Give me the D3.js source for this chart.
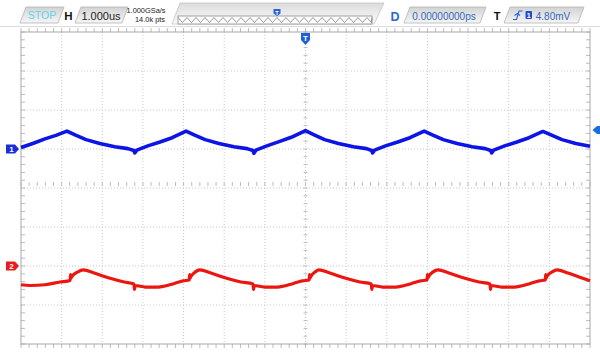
<!DOCTYPE html>
<html>
<head>
<meta charset="utf-8">
<script src="https://cdn.jsdelivr.net/npm/d3@7/dist/d3.min.js"></script>
<style>
  html, body { margin: 0; padding: 0; background: #fff; }
  svg { display: block; font-family: "Liberation Sans", Arial, sans-serif; }
</style>
</head>
<body>
<svg id="scope" width="600" height="356"></svg>
<script>
// Horizontal: microseconds (1 us/div, 14 divisions). Vertical: screen divisions (8 divisions).
const ch1Time = [-7.00, -6.71, -6.41, -6.14, -5.87, -5.67, -5.40, -5.06, -4.69, -4.37, -4.22, -4.20, -4.15,
  -3.88, -3.58, -3.28, -2.94, -2.74, -2.47, -2.13, -1.76, -1.44, -1.29, -1.27, -1.22,
  -0.95, -0.65, -0.35, 0.00, 0.20, 0.47, 0.81, 1.18, 1.50, 1.63, 1.65, 1.70,
  1.97, 2.27, 2.57, 2.92, 3.12, 3.39, 3.73, 4.10, 4.42, 4.56, 4.58, 4.63,
  4.90, 5.20, 5.50, 5.84, 6.04, 6.31, 6.65, 7.00];
const ch1Div = [1.04, 1.14, 1.26, 1.35, 1.46, 1.36, 1.24, 1.14, 1.06, 1.01, 0.96, 0.90, 0.97,
  1.08, 1.18, 1.29, 1.46, 1.36, 1.24, 1.14, 1.06, 1.01, 0.96, 0.89, 0.97,
  1.08, 1.19, 1.30, 1.47, 1.37, 1.24, 1.14, 1.06, 1.01, 0.96, 0.90, 0.97,
  1.08, 1.18, 1.29, 1.46, 1.36, 1.24, 1.14, 1.06, 1.01, 0.96, 0.90, 0.97,
  1.08, 1.18, 1.29, 1.45, 1.36, 1.24, 1.14, 1.07];

const ch2Time = [-7.00, -6.78, -6.41, -6.04, -5.79, -5.78, -5.77, -5.75, -5.60, -5.47,
  -5.20, -4.83, -4.46, -4.22, -4.21, -4.19, -3.94, -3.62, -3.26, -3.01, -2.86, -2.85, -2.84, -2.82, -2.71, -2.60,
  -2.33, -1.96, -1.59, -1.29, -1.28, -1.26, -1.01, -0.69, -0.33, -0.08, 0.09, 0.10, 0.11, 0.13, 0.24, 0.33,
  0.60, 0.97, 1.34, 1.62, 1.63, 1.65, 1.90, 2.22, 2.58, 2.83, 2.99, 3.00, 3.01, 3.03, 3.14, 3.26,
  3.53, 3.90, 4.27, 4.54, 4.55, 4.57, 4.82, 5.14, 5.50, 5.75, 5.90, 5.91, 5.92, 5.94, 6.07, 6.19,
  6.46, 6.75, 7.00];
const ch2Div = [-2.48, -2.50, -2.48, -2.41, -2.37, -2.22, -2.31, -2.27, -2.15, -2.10,
  -2.18, -2.31, -2.41, -2.46, -2.60, -2.50, -2.54, -2.54, -2.46, -2.38, -2.36, -2.22, -2.31, -2.27, -2.15, -2.10,
  -2.18, -2.31, -2.41, -2.46, -2.60, -2.50, -2.54, -2.54, -2.46, -2.38, -2.36, -2.22, -2.31, -2.27, -2.15, -2.10,
  -2.18, -2.31, -2.41, -2.46, -2.60, -2.50, -2.54, -2.54, -2.46, -2.38, -2.36, -2.22, -2.31, -2.27, -2.15, -2.10,
  -2.18, -2.31, -2.41, -2.46, -2.60, -2.50, -2.54, -2.54, -2.46, -2.38, -2.36, -2.22, -2.31, -2.27, -2.15, -2.10,
  -2.18, -2.29, -2.38];

// Channel reference offsets and trigger level (divisions)
const ch1Offset = 1.0;
const ch2Offset = -2.0;
const triggerLevel = 1.49;

// Status bar texts
const runState = "STOP";
const timebase = "1.000us";
const sampleRate = "1.000GSa/s";
const memDepth = "14.0k pts";
const delayText = "0.00000000ps";
const trigText = "4.80mV";

const svg = d3.select("#scope");
const x = d3.scaleLinear().domain([-7, 7]).range([21, 590]);
const y = d3.scaleLinear().domain([-4, 4]).range([344, 32]);

// ---------- graticule ----------
const grid = svg.append("g");
const gridCol = "#c8c8c8";
d3.range(-6, 7).forEach(d => {
  grid.append("line").attr("x1", x(d)).attr("x2", x(d)).attr("y1", y(4)).attr("y2", y(-4))
    .attr("stroke", gridCol).attr("stroke-dasharray", "1,2");
});
d3.range(-3, 4).forEach(d => {
  grid.append("line").attr("y1", y(d)).attr("y2", y(d)).attr("x1", x(-7)).attr("x2", x(7))
    .attr("stroke", gridCol).attr("stroke-dasharray", "1,2");
});
// minor ticks on border and centre lines
const minorX = d3.range(-7, 7.001, 0.2).map(v => +v.toFixed(2));
const minorY = d3.range(-4, 4.001, 0.2).map(v => +v.toFixed(2));
minorX.forEach(d => {
  [[y(-4), -4], [y(4), 4], [y(0) - 2, 4]].forEach(([yy, len]) => {
    grid.append("line").attr("x1", x(d)).attr("x2", x(d)).attr("y1", yy).attr("y2", yy - len)
      .attr("stroke", "#bcbcbc");
  });
});
minorY.forEach(d => {
  [[x(-7), 4], [x(7), -4], [x(0) - 2, 4]].forEach(([xx, len]) => {
    grid.append("line").attr("y1", y(d)).attr("y2", y(d)).attr("x1", xx).attr("x2", xx + len)
      .attr("stroke", "#bcbcbc");
  });
});
grid.append("rect").attr("x", x(-7)).attr("y", y(4)).attr("width", x(7) - x(-7)).attr("height", y(-4) - y(4))
  .attr("fill", "none").attr("stroke", "#a8a8a8");

// ---------- traces ----------
const ch1 = ch1Time.map((t, i) => [t, ch1Div[i]]);
const ch2 = ch2Time.map((t, i) => [t, ch2Div[i]]);
svg.append("path").datum(ch1)
  .attr("d", d3.line().x(d => x(d[0])).y(d => y(d[1])).curve(d3.curveLinear))
  .attr("fill", "none").attr("stroke", "#0c14e6").attr("stroke-width", 3.6).attr("stroke-linejoin", "round");
svg.append("path").datum(ch2)
  .attr("d", d3.line().x(d => x(d[0])).y(d => y(d[1])).curve(d3.curveMonotoneX))
  .attr("fill", "none").attr("stroke", "#ec1510").attr("stroke-width", 3.2).attr("stroke-linejoin", "round");

// ---------- markers ----------
function chMarker(yy, col, label) {
  const g = svg.append("g");
  g.append("path").attr("d", `M6,${yy - 4.5}H15L19,${yy}L15,${yy + 4.5}H6Z`).attr("fill", col);
  g.append("text").attr("x", 11.5).attr("y", yy + 3.2).attr("text-anchor", "middle")
    .attr("font-size", 8).attr("font-weight", "bold").attr("fill", "#fff").text(label);
}
chMarker(y(ch1Offset), "#1a2fd8", "1");
chMarker(y(ch2Offset), "#e81c1c", "2");

// trigger level marker at right edge
const ty = y(triggerLevel);
svg.append("path").attr("d", `M600,${ty - 4}H597L592.5,${ty}L597,${ty + 4}H600Z`).attr("fill", "#1a6ee0");

// trigger position marker at top
const tx = x(0);
svg.append("path").attr("d", `M${tx - 4.5},33H${tx + 4.5}V40L${tx},45L${tx - 4.5},40Z`).attr("fill", "#1f5fd8");
svg.append("text").attr("x", tx).attr("y", 41).attr("text-anchor", "middle").attr("font-size", 8)
  .attr("font-weight", "bold").attr("fill", "#fff").text("T");

// ---------- status bar ----------
const defs = svg.append("defs");
const grad = defs.append("linearGradient").attr("id", "boxg").attr("x1", 0).attr("y1", 0).attr("x2", 0).attr("y2", 1);
grad.append("stop").attr("offset", "0%").attr("stop-color", "#d2d2d2");
grad.append("stop").attr("offset", "100%").attr("stop-color", "#f6f6f6");
const grad2 = defs.append("linearGradient").attr("id", "topg").attr("x1", 0).attr("y1", 0).attr("x2", 0).attr("y2", 1);
grad2.append("stop").attr("offset", "0%").attr("stop-color", "#dcdcdc");
grad2.append("stop").attr("offset", "100%").attr("stop-color", "#fbfbfb");

function slantBox(x0, x1, y0, y1) {
  svg.append("path").attr("d", `M${x0},${y1}L${x0 + 6},${y0}H${x1 + 6}L${x1},${y1}Z`)
    .attr("fill", "url(#boxg)").attr("stroke", "#b4b4b4").attr("stroke-width", 0.8);
}

svg.append("line").attr("x1", 0).attr("x2", 600).attr("y1", 26.5).attr("y2", 26.5).attr("stroke", "#dcdcdc");

slantBox(20, 58, 7, 23);
svg.append("text").attr("x", 42).attr("y", 19).attr("text-anchor", "middle").attr("font-size", 10.5)
  .attr("fill", "#62d4ea").text(runState);

svg.append("text").attr("x", 68.5).attr("y", 20).attr("text-anchor", "middle").attr("font-size", 11.5)
  .attr("font-weight", "bold").attr("fill", "#111").text("H");
slantBox(75, 122, 7, 23);
svg.append("text").attr("x", 101).attr("y", 19.5).attr("text-anchor", "middle").attr("font-size", 11)
  .attr("fill", "#222").text(timebase);

svg.append("text").attr("x", 146).attr("y", 13).attr("text-anchor", "middle").attr("font-size", 7.4)
  .attr("fill", "#222").text(sampleRate);
svg.append("text").attr("x", 150).attr("y", 22).attr("text-anchor", "middle").attr("font-size", 7.4)
  .attr("fill", "#222").text(memDepth);

// memory overview strip
svg.append("path").attr("d", "M172,24L180,3H384L374,24Z").attr("fill", "url(#topg)").attr("stroke", "#c4c4c4").attr("stroke-width", 0.8);
svg.append("rect").attr("x", 178).attr("y", 16).attr("width", 194).attr("height", 8)
  .attr("fill", "#fff").attr("stroke", "#8a8a8a").attr("stroke-width", 0.8);
const zig = d3.range(0, 22).map(i => [178 + i * 9, 17.5, 178 + i * 9 + 4.5, 22.5]);
svg.append("path").attr("d", zig.map((z, i) => `${i ? "L" : "M"}${z[0]},${z[1]}L${z[2]},${z[3]}`).join("") + "L372,17.5")
  .attr("fill", "none").attr("stroke", "#7a7a7a").attr("stroke-width", 0.8);
svg.append("path").attr("d", "M273.5,9H280.5V13.5L277,16L273.5,13.5Z").attr("fill", "#2a62d6");
svg.append("text").attr("x", 277).attr("y", 14.5).attr("text-anchor", "middle").attr("font-size", 5.5)
  .attr("font-weight", "bold").attr("fill", "#fff").text("T");

svg.append("text").attr("x", 395).attr("y", 21).attr("text-anchor", "middle").attr("font-size", 12.5)
  .attr("font-weight", "bold").attr("fill", "#2a6ad0").text("D");
slantBox(404, 480, 7, 23);
svg.append("text").attr("x", 444).attr("y", 19.5).attr("text-anchor", "middle").attr("font-size", 10)
  .attr("fill", "#3468b8").text(delayText);

svg.append("text").attr("x", 497).attr("y", 20).attr("text-anchor", "middle").attr("font-size", 11)
  .attr("font-weight", "bold").attr("fill", "#111").text("T");
slantBox(504, 578, 7, 23);
// rising-edge trigger icon
svg.append("path").attr("d", "M513,19.5H516.5L519,11H522.5M514.5,15.5L517.5,13.5L520,15.5")
  .attr("fill", "none").attr("stroke", "#2a62d6").attr("stroke-width", 1.1);
svg.append("rect").attr("x", 525.5).attr("y", 11).attr("width", 6.5).attr("height", 8).attr("rx", 1).attr("fill", "#1f4fd0");
svg.append("text").attr("x", 528.8).attr("y", 17.8).attr("text-anchor", "middle").attr("font-size", 7)
  .attr("font-weight", "bold").attr("fill", "#fff").text("1");
svg.append("text").attr("x", 553).attr("y", 19.5).attr("text-anchor", "middle").attr("font-size", 10)
  .attr("fill", "#3468b8").text(trigText);
</script>
</body>
</html>
